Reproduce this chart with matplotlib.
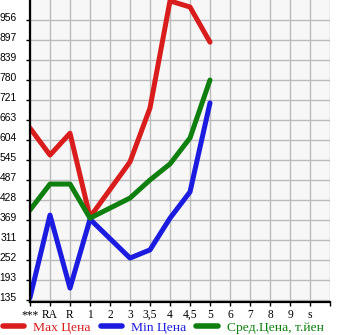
import numpy as np
import matplotlib
matplotlib.use("Agg")
import matplotlib.pyplot as plt
import matplotlib.transforms as mtransforms

# categories on the x axis
cats = ['***', 'RA', 'R', '1', '2', '3', '3,5', '4', '4,5', '5', '6', '7', '8', '9', 's']

# prices (NaN = no data)
max_price = [639, 560, 624, 378, np.nan, 540, 698, 1012, 994, 891, np.nan, np.nan, np.nan, np.nan, np.nan]
min_price = [142, 384, 170, 372, np.nan, 258, 282, 375, 452, 713, np.nan, np.nan, np.nan, np.nan, np.nan]
avg_price = [399, 475, 475, 375, np.nan, 434, 487, 534, 610, 780, np.nan, np.nan, np.nan, np.nan, np.nan]

yticks = [135, 193, 252, 311, 369, 428, 487, 545, 604, 663, 721, 780, 839, 897, 956]

series = [
    ('Max Цена', max_price, '#d91c1c'),
    ('Min Цена', min_price, '#1c1ce0'),
    ('Сред.Цена, т.йен', avg_price, '#0f7f0f'),
]

plt.rcParams['font.family'] = ['Liberation Serif', 'DejaVu Serif']
plt.rcParams['font.size'] = 8

fig = plt.figure(figsize=(3.45, 3.35), dpi=100)
ax = fig.add_axes([30 / 345, 33 / 335, 300 / 345, 302 / 335])
ax.set_facecolor('#f7f7f7')

x = np.arange(len(cats))
handles = []
for name, vals, col in series:
    v = np.array(vals, dtype=float)
    ok = ~np.isnan(v)
    ln, = ax.plot(x[ok], v[ok], color=col, lw=3.6, solid_capstyle='round',
                  solid_joinstyle='round', label=name)
    handles.append(ln)

ax.set_xlim(0, len(cats))
ax.set_ylim(129.2, 1014.6)

ax.set_xticks(np.arange(len(cats) + 1))
ax.set_xticklabels(cats + [''], fontsize=8.3)
ax.set_yticks(yticks)
ax.set_yticklabels([str(t) for t in yticks], family=['Liberation Sans', 'DejaVu Sans'], fontsize=7.4)

ax.grid(True, color='#bbbbbb', lw=1)
ax.set_axisbelow(True)
for s in ['top', 'right']:
    ax.spines[s].set_visible(False)
for s in ['left', 'bottom']:
    ax.spines[s].set_linewidth(1.6)
    ax.spines[s].set_color('black')
ax.tick_params(axis='both', length=3, width=1)
ax.tick_params(axis='x', pad=2)
ax.tick_params(axis='y', pad=6.5)

# y labels sit a little above their grid lines
shift = mtransforms.ScaledTranslation(0, 3 / 100, fig.dpi_scale_trans)
for lab in ax.get_yticklabels():
    lab.set_transform(lab.get_transform() + shift)

leg = fig.legend(handles=handles, loc='lower left', bbox_to_anchor=(0.0, -0.005), ncol=3,
                 frameon=False, borderpad=0.2, borderaxespad=0, handlelength=1.6,
                 handletextpad=0.65, columnspacing=0.75, fontsize=9.7)
for txt, (_, _, col) in zip(leg.get_texts(), series):
    txt.set_color(col)
for h in leg.legend_handles:
    h.set_linewidth(4)
    h.set_solid_capstyle('round')

fig.savefig('out.png', dpi=100)
